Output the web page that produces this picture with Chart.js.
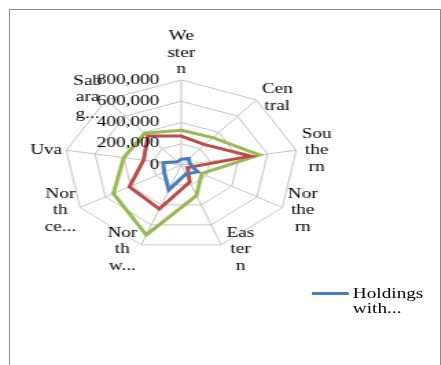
<!DOCTYPE html>
<html>
<head>
<meta charset="utf-8">
<script src="https://cdn.jsdelivr.net/npm/chart.js@4.4.1/dist/chart.umd.min.js"></script>
<style>
  html, body { margin: 0; padding: 0; background: #fff; }
  #frame { position: absolute; left: 9px; top: 9px; width: 430px; height: 400px; border: 1px solid #8c8c8c; }
  /* the reference is stretched sideways, so is this */
  #stretch { position: absolute; left: 0; top: 0; width: 321px; height: 365px; transform: scaleX(1.373); transform-origin: 0 0; }
  #radar { position: absolute; left: 0; top: 0; }
  #legend { position: absolute; left: 227px; top: 286px; font: 14px "Liberation Serif", serif; line-height: 15px; color: #000; }
  #legend .swatch { position: absolute; left: 0; top: 6px; width: 27px; height: 2.5px; background: #4a7ebb; }
  #legend .txt { position: absolute; left: 30px; top: 0; white-space: nowrap; }
</style>
</head>
<body>
<div id="frame"></div>
<div id="stretch">
  <canvas id="radar" width="321" height="365"></canvas>
  <div id="legend"><span class="swatch"></span><span class="txt">Holdings<br>with...</span></div>
</div>
<script>
// === Données ===
const categories = [
  ["We", "ster", "n"],
  ["Cen", "tral"],
  ["Sou", "the", "rn"],
  ["Nor", "the", "rn"],
  ["Eas", "ter", "n"],
  ["Nor", "th", "w..."],
  ["Nor", "th", "ce..."],
  ["Uva"],
  ["Sab", "ara", "g..."]
];
const blueValues  = [55000, 80000, 60000, 130000, 90000, 250000, 135000, 125000, 40000];
const redValues   = [272000, 250000, 483000, 50000, 170000, 440000, 410000, 262000, 355000];
const greenValues = [327000, 336000, 545000, 162000, 305000, 700000, 537000, 400000, 390000];
const tickValues = [0, 200000, 400000, 600000, 800000];
const tickLabels = ["0", "200,000", "400,000", "600,000", "800,000"];

const FONT = "14px 'Liberation Serif', serif";

// Textes des axes dessinés à la manière d'Excel
const radarText = {
  id: "radarText",
  afterDraw(chart) {
    const ctx = chart.ctx;
    const r = chart.scales.r;
    ctx.save();
    ctx.font = FONT;
    ctx.fillStyle = "#000";
    ctx.textBaseline = "middle";

    // graduations à gauche de l'axe vertical
    ctx.textAlign = "right";
    tickValues.forEach((v, i) => {
      const y = r.yCenter - r.getDistanceFromCenterForValue(v);
      ctx.fillText(tickLabels[i], r.xCenter - 16, y);
    });

    // catégories
    const lh = 16.5;
    ctx.textAlign = "center";
    categories.forEach((lines, i) => {
      const p = r.getPointPosition(i, r.drawingArea);
      const a = r.getIndexAngle(i);
      const deg = Math.round(a * 180 / Math.PI) % 360;
      const w = Math.max(...lines.map(t => ctx.measureText(t).width));
      const h = lines.length * lh;
      let cx, top;
      if (deg === 0) {
        cx = p.x;
        top = p.y - 2 - h;
      } else {
        const gap = deg < 180 ? 4 : 3;
        cx = deg < 180 ? p.x + gap + w / 2 : p.x - gap - w / 2;
        top = p.y - h / 2 + 1 - 4 * Math.cos(a);
      }
      lines.forEach((t, j) => ctx.fillText(t, cx, top + lh * (j + 0.5)));
    });
    ctx.restore();
  }
};

const ctx = document.getElementById("radar").getContext("2d");
new Chart(ctx, {
  type: "radar",
  data: {
    labels: categories,
    datasets: [
      { label: "Holdings with...", data: blueValues, borderColor: "#4a7ebb" },
      { label: "Series 2", data: redValues, borderColor: "#be4b48" },
      { label: "Series 3", data: greenValues, borderColor: "#98b954" }
    ].map(d => Object.assign(d, {
      borderWidth: 3,
      pointRadius: 0,
      fill: false,
      backgroundColor: "transparent",
      tension: 0
    }))
  },
  options: {
    responsive: false,
    devicePixelRatio: 1,
    animation: false,
    layout: { padding: { left: 47, right: 103, top: 80, bottom: 114 } },
    plugins: {
      legend: { display: false },
      tooltip: { enabled: false }
    },
    scales: {
      r: {
        min: 0,
        max: 800000,
        ticks: { stepSize: 200000, display: false },
        grid: { color: "#c4c4c4", lineWidth: 1 },
        angleLines: { color: "#c4c4c4", lineWidth: 1 },
        pointLabels: { display: false }
      }
    }
  },
  plugins: [radarText]
});
</script>
</body>
</html>
